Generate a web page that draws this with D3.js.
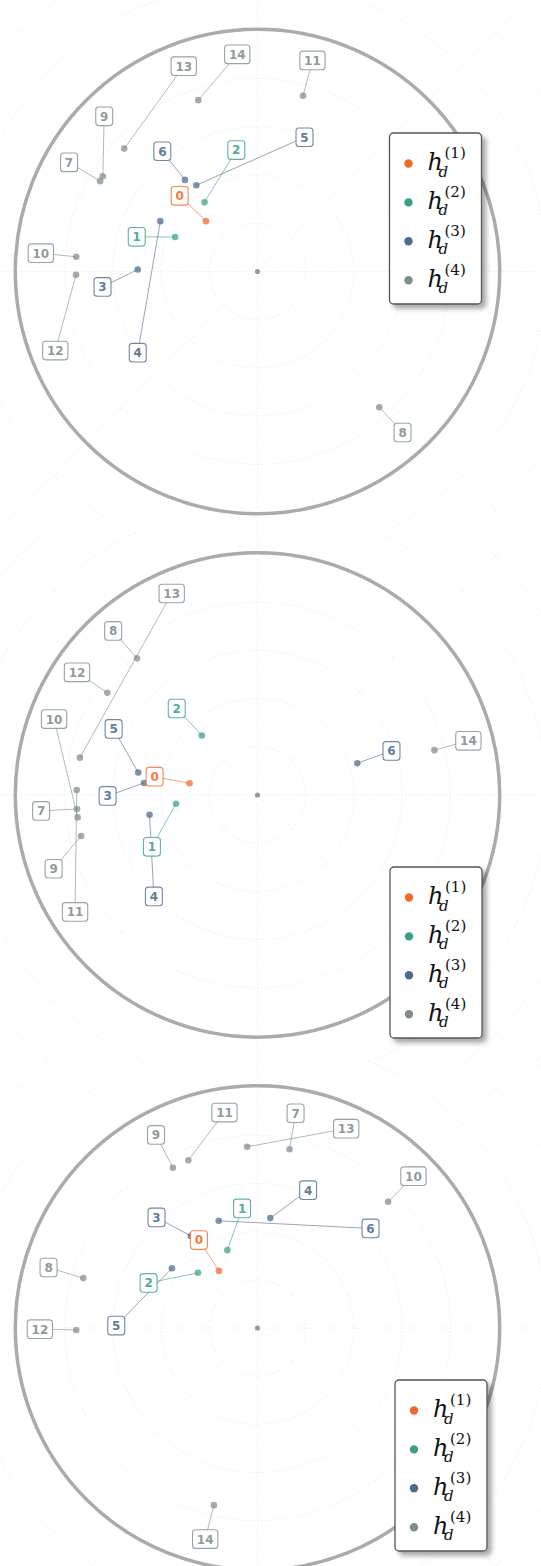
<!DOCTYPE html>
<html>
<head>
<meta charset="utf-8">
<script src="https://cdn.jsdelivr.net/npm/d3@7"></script>
<style>
  html, body { margin: 0; padding: 0; background: #fff; }
  svg { display: block; }
</style>
</head>
<body>
<script>
// ---- data -----------------------------------------------------------------
// tree nodes: 0 is the root, 1-2 its children, 3-6 grandchildren, 7-14 leaves
const nodeIds   = [0, 1, 2, 3, 4, 5, 6, 7, 8, 9, 10, 11, 12, 13, 14];
const nodeLevel = [0, 1, 1, 2, 2, 2, 2, 3, 3, 3, 3, 3, 3, 3, 3];
const levelSup  = ["(1)", "(2)", "(3)", "(4)"];

// Poincaré-disk embeddings (unit disk) for three runs
const embA_x = [-0.214, -0.342, -0.220, -0.497, -0.403, -0.254, -0.301, -0.653, 0.505, -0.642, -0.752, 0.189, -0.753, -0.553, -0.246];
const embA_y = [ 0.209,  0.143,  0.287,  0.008,  0.209,  0.358,  0.380,  0.375, -0.563, 0.395,  0.061, 0.729, -0.014,  0.510,  0.711];
const tagA_x = [-0.323, -0.501, -0.088, -0.643, -0.497, 0.195, -0.395, -0.782, 0.602, -0.636, -0.899, 0.228, -0.839, -0.306, -0.084];
const tagA_y = [ 0.314,  0.144,  0.504, -0.064, -0.337, 0.557,  0.499,  0.453, -0.668, 0.644,  0.076, 0.876, -0.328,  0.852,  0.901];

const embB_x = [-0.282, -0.338, -0.231, -0.471, -0.448, -0.495, 0.414, -0.749, -0.500, -0.732, -0.746, -0.750, -0.623, -0.737, 0.734];
const embB_y = [ 0.049, -0.036,  0.247,  0.050, -0.082,  0.093, 0.132, -0.058,  0.567, -0.170, -0.093,  0.021,  0.424,  0.155, 0.186];
const tagB_x = [-0.427, -0.438, -0.335, -0.622, -0.430, -0.597, 0.556, -0.898, -0.599, -0.846, -0.844, -0.757, -0.749, -0.356, 0.875];
const tagB_y = [ 0.076, -0.215,  0.359, -0.004, -0.421,  0.274, 0.183, -0.066,  0.681, -0.306,  0.315, -0.485,  0.509,  0.836, 0.225];

const embC_x = [-0.160, -0.125, -0.247, -0.277, 0.053, -0.355, -0.161, 0.133, -0.723, -0.351, 0.542, -0.287, -0.752, -0.043, -0.181];
const embC_y = [ 0.237,  0.323,  0.229,  0.382, 0.456,  0.248,  0.445, 0.742,  0.207,  0.665, 0.524,  0.696, -0.008,  0.752, -0.735];
const tagC_x = [-0.243, -0.064, -0.452, -0.419, 0.210, -0.586, 0.469, 0.158, -0.867, -0.421, 0.647, -0.137, -0.903, 0.368, -0.217];
const tagC_y = [ 0.365,  0.496,  0.187,  0.459, 0.572,  0.010, 0.413, 0.891,  0.251,  0.801, 0.630,  0.894, -0.005, 0.827, -0.876];

// polar grid ticks (radius in disk units, angle in degrees)
const ringTicks  = [0.2, 0.4, 0.6, 0.8, 1.0, 1.2, 1.4, 1.6, 1.8];
const spokeTicks = [0, 45, 90, 135, 180, 225, 270, 315];

// ---- styling / layout -----------------------------------------------------
const W = 541, H = 1566;
const R = 241;
const levelColor = ["#F0692A", "#3AA17E", "#4E6A8D", "#7F8C8D"];

const panels = [
  { xs: embA_x, ys: embA_y, tx: tagA_x, ty: tagA_y, cx: 257.5, cy: 271.5, top: 0,    bottom: 531,  legend: [389.5, 133] },
  { xs: embB_x, ys: embB_y, tx: tagB_x, ty: tagB_y, cx: 257.5, cy: 795,   top: 531,  bottom: 1061, legend: [390, 867] },
  { xs: embC_x, ys: embC_y, tx: tagC_x, ty: tagC_y, cx: 257.5, cy: 1328,  top: 1061, bottom: H,    legend: [395, 1380] }
];

const svg = d3.select("body").append("svg")
  .attr("width", W).attr("height", H)
  .attr("viewBox", `0 0 ${W} ${H}`);

const defs = svg.append("defs");
const shadow = defs.append("filter").attr("id", "legendShadow")
  .attr("x", "-20%").attr("y", "-20%").attr("width", "150%").attr("height", "150%");
shadow.append("feDropShadow")
  .attr("dx", 4).attr("dy", 4).attr("stdDeviation", 2.5)
  .attr("flood-color", "#000").attr("flood-opacity", 0.35);

panels.forEach((p, pi) => {
  const x = d3.scaleLinear().domain([-1, 1]).range([p.cx - R, p.cx + R]);
  const y = d3.scaleLinear().domain([-1, 1]).range([p.cy + R, p.cy - R]);
  const rr = d3.scaleLinear().domain([0, 1]).range([0, R]);

  defs.append("clipPath").attr("id", "clip" + pi)
    .append("rect").attr("x", 0).attr("y", p.top).attr("width", W).attr("height", p.bottom - p.top);

  const g = svg.append("g");
  const grid = g.append("g").attr("clip-path", `url(#clip${pi})`);

  // concentric rings
  grid.selectAll("circle.ring").data(ringTicks).join("circle")
    .attr("class", "ring")
    .attr("cx", x(0)).attr("cy", y(0)).attr("r", d => rr(d))
    .attr("fill", "none").attr("stroke", "#e6e6e6")
    .attr("stroke-width", 0.7).attr("stroke-dasharray", "1.5,2");

  // spokes
  grid.selectAll("line.spoke").data(spokeTicks).join("line")
    .attr("class", "spoke")
    .attr("x1", x(0)).attr("y1", y(0))
    .attr("x2", d => x(0) + rr(2.0) * Math.cos(d * Math.PI / 180))
    .attr("y2", d => y(0) - rr(2.0) * Math.sin(d * Math.PI / 180))
    .attr("stroke", "#e6e6e6").attr("stroke-width", 0.7).attr("stroke-dasharray", "1.5,2");

  // disk boundary
  g.append("circle")
    .attr("cx", x(0)).attr("cy", y(0)).attr("r", rr(1.005))
    .attr("fill", "none").attr("stroke", "#ababab").attr("stroke-width", 3.5);

  // origin marker
  g.append("circle").attr("cx", x(0)).attr("cy", y(0)).attr("r", 2.6).attr("fill", "#999");

  const nodes = nodeIds.map((id, i) => ({
    id, level: nodeLevel[i], px: x(p.xs[i]), py: y(p.ys[i]), lx: x(p.tx[i]), ly: y(p.ty[i])
  }));

  // leader lines
  g.append("g").selectAll("line").data(nodes).join("line")
    .attr("x1", d => d.lx).attr("y1", d => d.ly)
    .attr("x2", d => d.px).attr("y2", d => d.py)
    .attr("stroke", d => levelColor[d.level]).attr("stroke-opacity", 0.6).attr("stroke-width", 1);

  // points
  g.append("g").selectAll("circle").data(nodes).join("circle")
    .attr("cx", d => d.px).attr("cy", d => d.py).attr("r", 3.3)
    .attr("fill", d => levelColor[d.level]).attr("fill-opacity", 0.72);

  // node tags
  const tags = g.append("g").selectAll("g").data(nodes).join("g")
    .attr("transform", d => `translate(${d.lx},${d.ly})`);
  const rects = tags.append("rect");
  const texts = tags.append("text")
    .attr("text-anchor", "middle").attr("dy", "0.37em")
    .attr("font-family", "'DejaVu Sans', sans-serif").attr("font-weight", "bold")
    .attr("font-size", 12)
    .attr("fill", d => levelColor[d.level]).attr("fill-opacity", 0.9)
    .text(d => d.id);
  texts.each(function (d) { d.tw = this.getComputedTextLength(); });
  rects
    .attr("x", d => -d.tw / 2 - 4.3).attr("y", -9.3)
    .attr("width", d => d.tw + 8.6).attr("height", 18.6)
    .attr("rx", 3).attr("ry", 3)
    .attr("fill", "#fff").attr("fill-opacity", 0.92)
    .attr("stroke", d => levelColor[d.level]).attr("stroke-opacity", 0.8).attr("stroke-width", 1.1);

  // legend
  const lg = g.append("g").attr("transform", `translate(${p.legend[0]},${p.legend[1]})`);
  lg.append("rect")
    .attr("width", 92).attr("height", 171).attr("rx", 4).attr("ry", 4)
    .attr("fill", "#fff").attr("stroke", "#555").attr("stroke-width", 1.3)
    .attr("filter", "url(#legendShadow)");
  const items = lg.selectAll("g.item").data(levelSup).join("g")
    .attr("class", "item")
    .attr("transform", (d, i) => `translate(0,${30.5 + i * 38.9})`);
  items.append("circle").attr("cx", 19).attr("cy", 0).attr("r", 4.2)
    .attr("fill", (d, i) => levelColor[i]);
  // h_d^{(k)} as one text run: base, subscript, superscript
  const math = items.append("text")
    .attr("font-family", "'DejaVu Serif', serif").attr("fill", "#111");
  math.append("tspan").attr("x", 38).attr("y", 6.5)
    .attr("font-style", "italic").attr("font-size", 24).text("h");
  math.append("tspan").attr("x", 49).attr("y", 13)
    .attr("font-style", "italic").attr("font-size", 15).text("d");
  math.append("tspan").attr("x", 55).attr("y", -5.5)
    .attr("font-size", 15).text(d => d);
});
</script>
</body>
</html>
